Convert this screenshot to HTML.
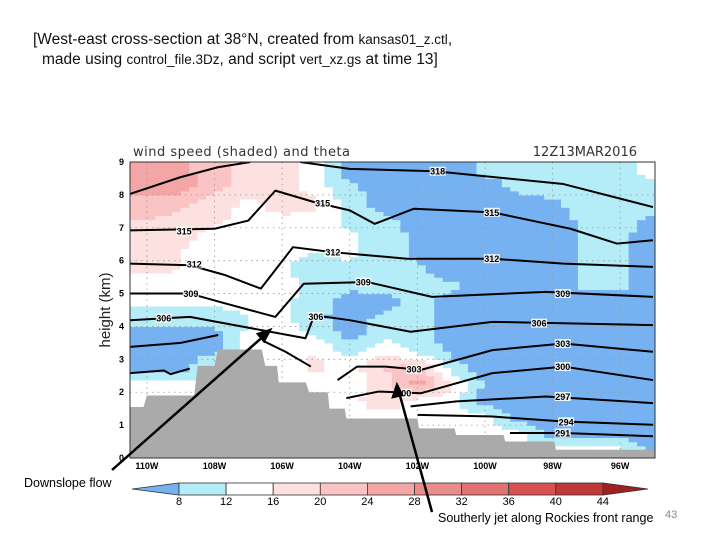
<!DOCTYPE html>
<html><head><meta charset="utf-8">
<style>
body{margin:0;background:#fff;}
#wrap{position:relative;width:720px;height:540px;overflow:hidden;font-family:"Liberation Sans",sans-serif;}
.hd{position:absolute;font-size:15.5px;color:#111;white-space:nowrap;}
.hd .m{font-size:13.5px;font-weight:normal;}
</style></head><body>
<div id="wrap">
<div class="hd" style="left:33px;top:31px;">[West-east cross-section at 38°N, created from <span class="m">kansas01_z.ctl</span>,</div>
<div class="hd" style="left:42px;top:51px;">made using <span class="m">control_file.3Dz</span>, and script <span class="m">vert_xz.gs</span> at time 13]</div>
<svg id="chart" width="720" height="540" style="position:absolute;left:0;top:0"></svg>
</div>
<script>
const lons=[-110,-109,-108,-107,-106,-105,-104,-103,-102,-101,-100,-99,-98,-97,-96,-95];
const heights=[8.75,8.25,7.75,7.25,6.75,6.25,5.75,5.25,4.75,4.25,3.75,3.25,2.75,2.25,1.75,1.25,0.75,0.25];
const windRows=[
[26,25,22,18,18,13,6,5,5,5,9,10,10,10,11,13],
[26,26,22,17,18,14,9,6,5,5,6,9,10,10,10,11],
[22,21,18,15,18,17,10,6,5,5,5,6,7,10,10,10],
[20,19,17,14,15,14,11,9,6,5,5,5,6,9,9,7],
[19,18,14,13,13,13,13,10,7,5,5,5,6,9,9,6],
[17,16,13,13,13,12,13,10,7,5,5,5,6,9,9,6],
[17,16,15,14,13,9,11,10,9,5,5,5,6,9,9,6],
[14,14,14,14,14,10,9,10,10,9,6,6,6,9,9,6],
[13,13,13,13,13,10,6,6,10,6,6,6,6,6,6,6],
[10,10,10,12,13,9,6,9,10,6,6,6,6,6,6,6],
[6,6,6,13,14,12,6,11,10,6,6,6,6,6,6,6],
[6,6,7,14,14,16,10,15,11,7,6,6,6,6,6,6],
[6,6,13,14,14,17,14,20,22,10,6,6,6,6,6,6],
[13,13,13,14,14,14,14,18,26,17,7,6,6,6,6,6],
[13,13,13,14,14,14,14,20,14,13,6,6,6,6,6,6],
[13,13,13,14,14,14,14,14,14,13,13,6,6,6,6,6],
[13,13,13,13,13,13,13,13,13,13,13,13,6,6,6,6],
[13,13,13,13,13,13,13,13,13,13,13,13,13,13,13,6]];
const levels=[8,12,16,20,24,28,32,36,40,44];
const levelColors=["#76b2f2","#b4ecf8","#ffffff","#fde1e1","#fac4c4","#f4a6a6","#e98c8c","#e27272","#d85050","#c03838","#a02020"];
const terrainLon=[-110.5,-110.1,-110,-108.6,-108.5,-108,-107.9,-106.6,-106.5,-106.15,-106.1,-105.3,-105.2,-104.65,-104.6,-104.15,-104.1,-102,-101.95,-100.9,-100.85,-99.45,-99.4,-97.95,-97.9,-94.9];
const terrainH=[1.55,1.55,1.9,1.9,2.8,2.8,3.3,3.3,2.8,2.8,2.3,2.3,2.0,2.0,1.5,1.5,1.2,1.2,0.9,0.9,0.7,0.7,0.5,0.5,0.25,0.25];
const thetaLines=[
{lon:[-110.5,-109.0,-107.9,-106.94],h:[8.03,8.54,8.84,9.0]},
{lon:[-105.47,-104,-101.47,-97.68,-95.03],h:[9.0,8.79,8.72,8.33,7.63]},
{lon:[-110.5,-108,-107,-106.2,-105.05,-104,-103.26,-102.1,-99.78,-97.47,-96.1,-95.03],h:[6.92,6.97,7.22,8.13,7.78,7.53,7.12,7.58,7.47,6.97,6.52,6.62]},
{lon:[-110.5,-108.73,-107.68,-106.63,-105.68,-104.52,-102.31,-99.78,-97.68,-95.03],h:[5.91,5.86,5.56,5.15,6.41,6.26,6.06,6.06,5.91,5.81]},
{lon:[-110.5,-108.73,-107.68,-106.2,-105.36,-103.47,-101.57,-98.2,-95.03],h:[5.0,5.0,4.7,4.29,5.3,5.35,4.9,5.05,4.9]},
{lon:[-110.5,-108.73,-107.15,-105.31,-105.05,-104,-102.2,-99.78,-95.03],h:[4.19,4.29,3.99,3.64,4.34,4.19,3.84,4.14,4.04]},
{lon:[-104.36,-103.78,-102.94,-101.89,-99.78,-97.68,-95.03],h:[2.37,2.78,2.78,2.68,3.28,3.48,3.23]},
{lon:[-110.5,-109,-107.89],h:[3.38,3.5,3.74]},
{lon:[-104.1,-103.15,-101.89,-99.78,-97.68,-95.03],h:[1.82,2.02,1.97,2.58,2.78,2.37]},
{lon:[-110.5,-109.5,-109.3,-108.73],h:[2.58,2.66,2.55,2.72]},
{lon:[-102.2,-100.84,-98.2,-95.03],h:[1.57,1.72,1.87,1.67]},
{lon:[-101.99,-99.78,-97.68,-95.03],h:[1.31,1.26,1.11,1.01]},
{lon:[-99.26,-97.68,-95.03],h:[0.76,0.76,0.66]},
{lon:[-106.52,-105.9,-105.15],h:[3.54,3.23,2.78]}];
const labelText=["318","315","315","315","312","312","312","309","309","309","306","306","306","303","303","300","300","297","294","291"];
const labelLon=[-101.4,-104.8,-99.8,-108.9,-108.6,-104.5,-99.8,-108.7,-103.6,-97.7,-109.5,-105.0,-98.4,-102.1,-97.7,-102.4,-97.7,-97.7,-97.6,-97.7];
const labelH=[8.72,7.75,7.47,6.9,5.9,6.26,6.06,5.0,5.35,5.0,4.25,4.3,4.1,2.7,3.48,1.97,2.78,1.87,1.1,0.76];
const xTickLon=[-110,-108,-106,-104,-102,-100,-98,-96];
const xTickText=["110W","108W","106W","104W","102W","100W","98W","96W"];
const yTicks=[0,1,2,3,4,5,6,7,8,9];

const NS="http://www.w3.org/2000/svg";
const svg=document.getElementById('chart');
const L=130,R=655,T=162,B=458;
const lon0=-110.5,lon1=-94.97;
function X(lon){return L+(lon-lon0)/(lon1-lon0)*(R-L);}
function Y(h){return B-h/9*(B-T);}
function mk(tag,attrs,parent){const e=document.createElementNS(NS,tag);for(const k in attrs)e.setAttribute(k,attrs[k]);(parent||svg).appendChild(e);return e;}
function colorFor(v){let i=0;while(i<levels.length&&v>=levels[i])i++;return levelColors[i];}
function sample(lon,h){
 let fi=(lon-lons[0])/(lons[1]-lons[0]);
 let fj=(heights[0]-h)/(heights[0]-heights[1]);
 fi=Math.max(0,Math.min(lons.length-1,fi));fj=Math.max(0,Math.min(heights.length-1,fj));
 const i0=Math.min(Math.floor(fi),lons.length-2),j0=Math.min(Math.floor(fj),heights.length-2);
 const a=fi-i0,b=fj-j0;
 const v00=windRows[j0][i0],v10=windRows[j0][i0+1],v01=windRows[j0+1][i0],v11=windRows[j0+1][i0+1];
 return v00*(1-a)*(1-b)+v10*a*(1-b)+v01*(1-a)*b+v11*a*b;
}

const defs=mk('defs',{});
const cp=mk('clipPath',{id:'plotclip'},defs);
mk('rect',{x:L,y:T,width:R-L,height:B-T},cp);

const field=mk('g',{'clip-path':'url(#plotclip)'});


const dLon=0.25,dH=0.125;
for(let lon=lon0;lon<lon1;lon+=dLon){
 for(let h=0;h<9;h+=dH){
  const v=sample(lon+dLon/2,h+dH/2);
  const r=mk('rect',{x:X(lon),y:Y(h+dH),width:X(lon+dLon)-X(lon)+0.6,height:Y(h)-Y(h+dH)+0.6,fill:colorFor(v)},field);
  
  
 }
}

const grid=mk('g',{stroke:'#999','stroke-width':0.8,'stroke-dasharray':'1.5,4'});


xTickLon.forEach(l=>mk('line',{x1:X(l),x2:X(l),y1:T,y2:B},grid));
yTicks.forEach(h=>mk('line',{x1:L,x2:R,y1:Y(h),y2:Y(h)},grid));

let pts=terrainLon.map((l,i)=>X(l)+','+Y(terrainH[i])).join(' ');
pts+=' '+X(-94.9)+','+B+' '+X(-110.5)+','+B;
const terr=mk('polygon',{points:pts,fill:'#aaaaaa','clip-path':'url(#plotclip)'});



const tg=mk('g',{fill:'none',stroke:'#000','stroke-width':2,'stroke-linejoin':'round','clip-path':'url(#plotclip)'});


thetaLines.forEach(ln=>{
 const p=mk('polyline',{points:ln.lon.map((l,i)=>X(l)+','+Y(ln.h[i])).join(' ')},tg);
 
 
});
labelText.forEach((t,i)=>{
 const g=mk('g',{});
 
 
 mk('rect',{x:X(labelLon[i])-8,y:Y(labelH[i])-4.5,width:16,height:9,fill:'#fff',opacity:0.85},g);
 const tx=mk('text',{x:X(labelLon[i]),y:Y(labelH[i])+3.5,'font-size':9,'font-weight':'bold','text-anchor':'middle','font-family':'Liberation Sans, sans-serif'},g);
 tx.textContent=t;
});

const fr=mk('rect',{x:L,y:T,width:R-L,height:B-T,fill:'none',stroke:'#333','stroke-width':1});



xTickLon.forEach((l,i)=>{const t=mk('text',{x:X(l),y:469,'font-size':9,'font-weight':'bold','text-anchor':'middle','font-family':'Liberation Sans, sans-serif'});t.textContent=xTickText[i];
 });
yTicks.forEach(h=>{const t=mk('text',{x:124,y:Y(h)+3,'font-size':9,'font-weight':'bold','text-anchor':'end','font-family':'Liberation Sans, sans-serif'});t.textContent=h;
 });
const yt=mk('text',{x:0,y:0,transform:'translate(110,310) rotate(-90)','font-size':15,'text-anchor':'middle',fill:'#222','font-family':'Liberation Sans, sans-serif'});
yt.textContent='height (km)';
const pt=mk('text',{x:133,y:156,'font-size':13,fill:'#333','font-family':'DejaVu Sans, sans-serif','letter-spacing':'0.5'});
pt.textContent='wind speed (shaded) and theta';
const dt=mk('text',{x:637,y:156,'font-size':13,fill:'#333','text-anchor':'end','font-family':'DejaVu Sans, sans-serif'});
dt.textContent='12Z13MAR2016';

const cb=mk('g',{});


const cbX0=179,cbStep=47.1,cy0=483,cy1=495;
mk('polygon',{points:`132,489 ${cbX0},${cy0} ${cbX0},${cy1}`,fill:levelColors[0],stroke:'#333','stroke-width':0.8},cb);
for(let i=0;i<levels.length-1;i++){mk('rect',{x:cbX0+i*cbStep,y:cy0,width:cbStep,height:cy1-cy0,fill:levelColors[i+1],stroke:'#333','stroke-width':0.8},cb);}
const endX=cbX0+(levels.length-1)*cbStep;
mk('polygon',{points:`${endX},${cy0} ${endX},${cy1} 648,489`,fill:levelColors[levels.length],stroke:'#333','stroke-width':0.8},cb);
levels.forEach((lv,i)=>{const t=mk('text',{x:cbX0+i*cbStep,y:505,'font-size':11,'text-anchor':'middle','font-family':'Liberation Sans, sans-serif'},cb);t.textContent=lv;});

const an=mk('g',{stroke:'#000','stroke-width':2.5});


mk('line',{x1:112,y1:470,x2:266,y2:334},an);
mk('polygon',{points:'270,330 258,334 264,341',fill:'#000'},an);
mk('line',{x1:432,y1:512,x2:399,y2:392},an);
mk('polygon',{points:'397,385 393,397 402,395',fill:'#000'},an);
const a1=mk('text',{x:24,y:487,'font-size':12.5,'font-family':'Liberation Sans, sans-serif'});a1.textContent='Downslope flow';

const a2=mk('text',{x:438,y:522,'font-size':12.5,'font-family':'Liberation Sans, sans-serif'});a2.textContent='Southerly jet along Rockies front range';

const pn=mk('text',{x:665,y:518,'font-size':11,fill:'#888','font-family':'Liberation Sans, sans-serif'});pn.textContent='43';

</script>
</body></html>
